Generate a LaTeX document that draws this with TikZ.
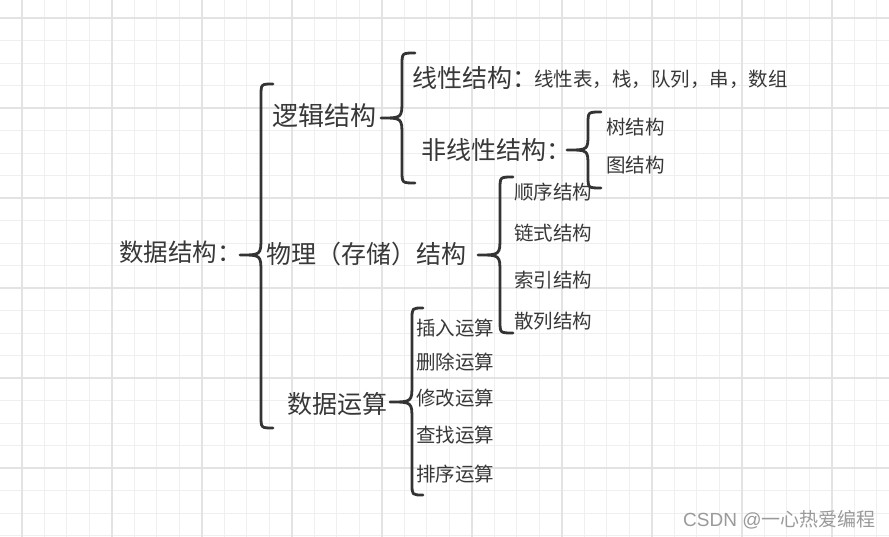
\documentclass[tikz,border=0pt]{standalone}
\usepackage{fontspec}
\setmainfont{Noto Sans CJK SC}
\newfontfamily\cjk{Noto Sans CJK SC}
\newfontfamily\latn{Liberation Sans}
\definecolor{txt}{HTML}{383838}
\definecolor{brc}{HTML}{333333}
\definecolor{gminor}{HTML}{EFEFEF}
\definecolor{gmajor}{HTML}{E3E3E3}
\definecolor{wm}{HTML}{9A9A9A}
\newcommand{\mybrace}[8]{% xe xv xt top mid bot rend rtip
  \draw[bracestyle] (#1,#4) .. controls (#2,#4) .. (#2,#4+#7) -- (#2,#5-#8)
    .. controls (#2,#5) .. (#3,#5) .. controls (#2,#5) .. (#2,#5+#8)
    -- (#2,#6-#7) .. controls (#2,#6) .. (#1,#6);}
\begin{document}
\begin{tikzpicture}[x=1pt,y=-1pt,
  bracestyle/.style={draw=brc,line width=2.8pt,line cap=round,line join=round},
  big/.style={anchor=base west,inner sep=0pt,text=txt,font=\cjk\fontsize{25}{25}\selectfont},
  small/.style={anchor=base west,inner sep=0pt,text=txt,font=\cjk\fontsize{19.5}{19.5}\selectfont},
  gridminor/.style={draw=gminor,line width=1.3pt},
  gridmajor/.style={draw=gmajor,line width=1.8pt}]
\useasboundingbox (0,0) rectangle (889,537);
\fill[white] (0,0) rectangle (889,537);
% grid
\foreach \k in {0,...,38} {\draw[gridminor] (21.7+22.5*\k,0) -- (21.7+22.5*\k,537);}
\foreach \k in {0,...,23} {\draw[gridminor] (0,18.3+22.5*\k) -- (889,18.3+22.5*\k);}
\foreach \k in {0,...,9} {\draw[gridmajor] (21.7+90*\k,0) -- (21.7+90*\k,537);}
\foreach \k in {0,...,5} {\draw[gridmajor] (0,18.3+90*\k) -- (889,18.3+90*\k);}
% texts
\node[big,font=\cjk\fontsize{24.5}{24.5}\selectfont] (root) at (119,261.3) {数据结构：};
\node[big,font=\cjk\fontsize{26}{26}\selectfont] (logic) at (272,125.9) {逻辑结构};
\node[big] (phys) at (266,263.5) {物理（存储）结构};
\node[big] (ops) at (287,413.5) {数据运算};
\node[big] (linear) at (412,87.5) {线性结构：};
\node[small] (linlist) at (534,86.9) {线性表，栈，队列，串，数组};
\node[big] (nonlin) at (421,159.5) {非线性结构：};
\node[small] (tree) at (606,134.4) {树结构};
\node[small] (graph) at (606,172.4) {图结构};
\node[small] (seq) at (514,199.4) {顺序结构};
\node[small] (link) at (514,240.4) {链式结构};
\node[small] (index) at (514,287.4) {索引结构};
\node[small] (hash) at (514,328.4) {散列结构};
\node[small] (ins) at (416,335.4) {插入运算};
\node[small] (del) at (416,369.4) {删除运算};
\node[small] (mod) at (416,405.4) {修改运算};
\node[small] (find) at (416,442.4) {查找运算};
\node[small] (sort) at (416,481.4) {排序运算};
\node[anchor=base west,inner sep=0pt,text=wm,font=\fontsize{19}{19}\selectfont] (mark) at (683,526) {{\latn CSDN @}{\cjk 一心热爱编程}};
% braces
\mybrace{273}{261}{240}{84}{255}{428}{12}{18}
\mybrace{415}{402}{381}{53}{118}{183}{12}{18}
\mybrace{601}{588}{567}{112}{150}{188}{12}{16}
\mybrace{513}{500}{478}{177}{255}{333}{12}{18}
\mybrace{423}{412}{390}{308}{402}{495}{11}{18}
\end{tikzpicture}
\end{document}
